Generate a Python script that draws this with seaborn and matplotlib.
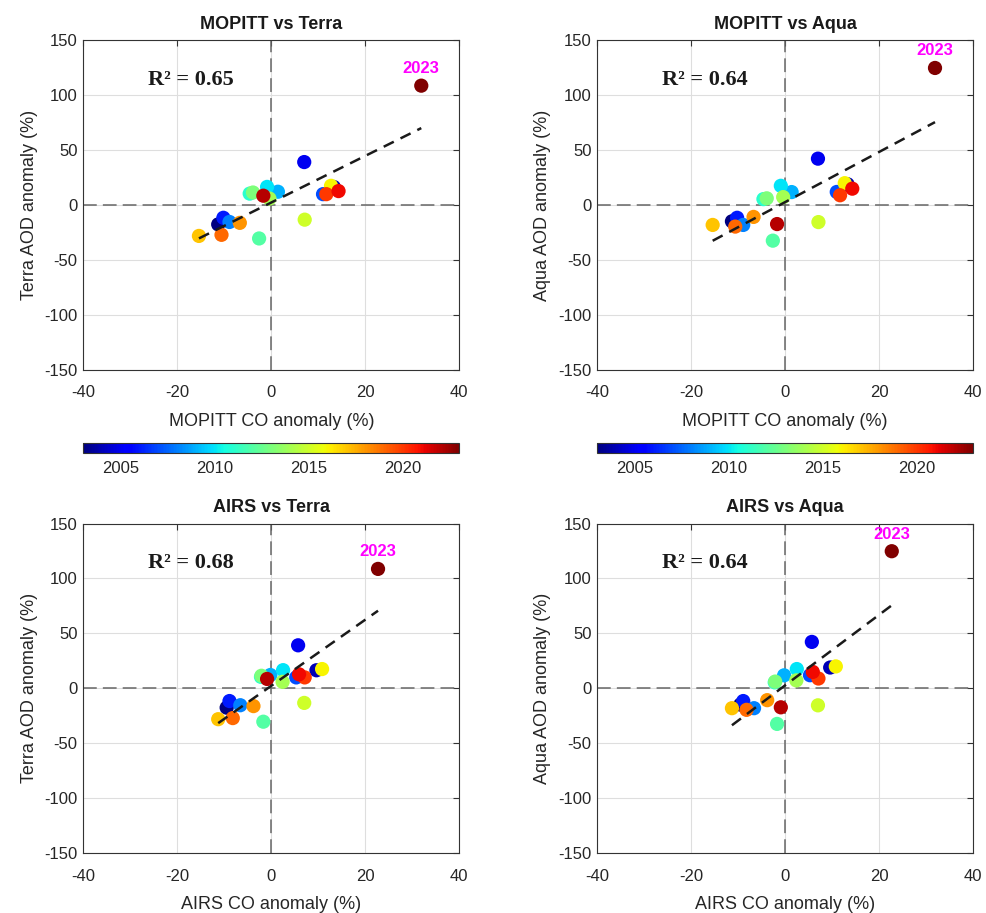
import numpy as np
import pandas as pd
import seaborn as sns
import matplotlib.pyplot as plt
from matplotlib.cm import ScalarMappable
from matplotlib.colors import Normalize

# Data (one value per year, 2003-2023)
years = list(range(2003, 2024))
mopitt_co = [-11.3, 13.3, 7.0, -10.2, 11.0, -8.9, 1.4, -0.9, -4.6, -2.6, -3.9,
             -0.4, 7.1, 12.7, -15.4, -6.7, -10.6, 11.7, 14.3, -1.7, 31.9]
airs_co = [-9.5, 9.6, 5.7, -8.9, 5.3, -6.6, -0.2, 2.5, -2.2, -1.7, -2.1,
           2.4, 7.0, 10.8, -11.3, -3.8, -8.2, 7.1, 5.9, -0.9, 22.7]
terra_aod = [-17.5, 16.5, 39.2, -11.5, 10.0, -15.3, 12.2, 16.6, 10.5, -30.3, 11.5,
             6.0, -13.2, 17.6, -28.0, -16.1, -27.0, 10.0, 12.8, 8.6, 108.7]
aqua_aod = [-14.7, 19.0, 42.3, -11.5, 12.0, -18.0, 11.9, 17.6, 5.5, -32.3, 6.2,
            7.3, -15.4, 20.0, -18.0, -10.7, -19.5, 9.0, 15.0, -17.2, 124.8]

titles = ["MOPITT vs Terra", "MOPITT vs Aqua", "AIRS vs Terra", "AIRS vs Aqua"]
r2_labels = ["0.65", "0.64", "0.68", "0.64"]
cbar_ticks = [2005, 2010, 2015, 2020]

df = pd.DataFrame({"year": years, "mopitt": mopitt_co, "airs": airs_co,
                   "terra": terra_aod, "aqua": aqua_aod})

sns.set_theme(style="white")
plt.rcParams['font.family'] = ['Liberation Sans', 'DejaVu Sans']
plt.rcParams['axes.unicode_minus'] = False

fig = plt.figure(figsize=(9.87, 9.13), dpi=100)

W, H = 0.381, 0.3612
panels = [
    (0.0844, 0.5947, "mopitt", "terra", "MOPITT CO anomaly (%)", "Terra AOD anomaly (%)"),
    (0.6049, 0.5947, "mopitt", "aqua", "MOPITT CO anomaly (%)", "Aqua AOD anomaly (%)"),
    (0.0844, 0.0654, "airs", "terra", "AIRS CO anomaly (%)", "Terra AOD anomaly (%)"),
    (0.6049, 0.0654, "airs", "aqua", "AIRS CO anomaly (%)", "Aqua AOD anomaly (%)"),
]

jet = plt.get_cmap("jet")
norm = Normalize(2003, 2023)
txt = "#262626"

for i, (l, b, xc, yc, xl, yl) in enumerate(panels):
    ax = fig.add_axes([l, b, W, H])
    ax.grid(True, color="0.87", lw=0.8, zorder=0)
    ax.set_axisbelow(True)
    ax.axhline(0, color="0.4", ls=(0, (9, 4)), lw=1.1, zorder=1)
    ax.axvline(0, color="0.4", ls=(0, (9, 4)), lw=1.1, zorder=1)

    sns.scatterplot(data=df, x=xc, y=yc, hue="year", palette=jet, hue_norm=norm,
                    s=105, linewidth=0, legend=False, ax=ax, zorder=3)
    sns.regplot(data=df, x=xc, y=yc, scatter=False, ci=None, truncate=True, ax=ax,
                line_kws=dict(color="k", ls=(0, (4.5, 3)), lw=1.8, zorder=4))

    last = df.iloc[-1]
    ax.annotate(str(int(last["year"])), (last[xc], last[yc]), xytext=(0, 17),
                textcoords="offset pixels", ha="center", va="center",
                color="#ff00ff", fontsize=12, fontweight="bold", zorder=5)
    ax.text(-26.2, 114, "R\u00b2 = " + r2_labels[i], family="Liberation Serif",
            fontweight="bold", fontsize=16, va="center", color="k")

    ax.set_xlim(-40, 40)
    ax.set_ylim(-150, 150)
    ax.set_xticks([-40, -20, 0, 20, 40])
    ax.set_yticks([-150, -100, -50, 0, 50, 100, 150])
    ax.tick_params(axis="both", direction="in", top=True, right=True, length=4,
                   width=0.8, color="0.2", labelsize=12, labelcolor=txt)
    ax.tick_params(axis="x", pad=11)
    ax.tick_params(axis="y", pad=4)
    for sp in ax.spines.values():
        sp.set_color("0.2")
        sp.set_linewidth(0.8)
    ax.set_xlabel(xl, fontsize=13, color=txt, labelpad=9)
    ax.set_ylabel(yl, fontsize=13, color=txt, labelpad=5)
    ax.set_title(titles[i], fontsize=13, fontweight="bold", color="k", pad=8)

    if b > 0.5:
        cax = fig.add_axes([l, 0.5042, W, 0.0103])
        cb = fig.colorbar(ScalarMappable(norm=norm, cmap=jet), cax=cax,
                          orientation="horizontal", ticks=cbar_ticks)
        cb.ax.tick_params(direction="in", length=3, width=0.8, color="0.2",
                          labelsize=12, labelcolor=txt, pad=6)
        cb.outline.set_edgecolor("0.2")
        cb.outline.set_linewidth(0.8)

fig.savefig("out.png", dpi=100)
